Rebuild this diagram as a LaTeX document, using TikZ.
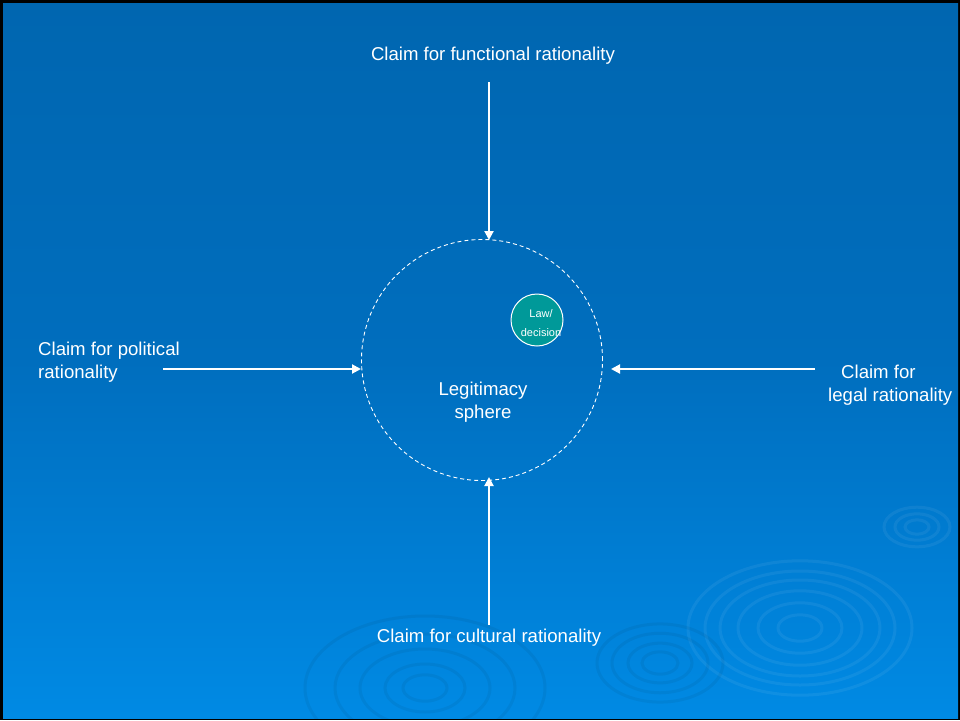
\documentclass[tikz,border=0pt]{standalone}
\usepackage{fontspec}
\setmainfont{Liberation Sans}
\usetikzlibrary{arrows.meta}
\begin{document}
\begin{tikzpicture}[x=1pt,y=-1pt,
  lbl/.style={text=white,font=\fontsize{18.6}{22}\selectfont,inner sep=0pt},
  claimarrow/.style={draw=white,line width=2pt,-{Triangle[length=9pt,width=9pt]}},
  ripple/.style={draw=white,opacity=0.06,line width=3pt},
  rippledark/.style={draw=black,opacity=0.05,line width=3pt}]
\useasboundingbox (0,0) rectangle (960,720);
% frame and gradient background
\fill[black] (0,0) rectangle (960,720);
\shade[top color={rgb,255:red,0;green,102;blue,176}, bottom color={rgb,255:red,0;green,138;blue,228}, middle color={rgb,255:red,0;green,110;blue,190}]
  (3,3) rectangle (958,718);
% ripples (decoration)
\begin{scope}
\clip (3,3) rectangle (958,718);
\foreach \r in {112,95,80,62,42,22}{\draw[ripple] (800,628) ellipse ({\r} and {0.6*\r});}
\foreach \r in {63,48,32,18}{\draw[rippledark] (660,663) ellipse ({\r} and {0.62*\r});}
\foreach \r in {120,90,65,40,22}{\draw[rippledark] (425,688) ellipse ({\r} and {0.6*\r});}
\foreach \r in {33,22,12}{\draw[ripple] (917,527) ellipse ({\r} and {0.6*\r});}
\end{scope}
% main nodes
\node[circle,draw=white,dashed,dash pattern=on 4pt off 3pt,line width=0.9pt,minimum size=241pt,inner sep=0pt] (sphere) at (482,360) {};
\node[lbl,align=center] (legit) at (483,402) {Legitimacy\\[1pt]sphere};
\node[circle,draw=white,line width=1pt,fill={rgb,255:red,0;green,153;blue,153},minimum size=52pt,inner sep=0pt] (law) at (537,320) {};
\node[text=white,align=center,font=\fontsize{11}{19}\selectfont,inner sep=0pt] (lawtxt) at (541,323) {Law/\\decision};
\node[lbl] (func) at (493,56) {Claim for functional rationality};
\node[lbl,align=left,anchor=west] (pol) at (38,362) {Claim for political\\[1pt]rationality};
\node[lbl,align=left,anchor=west] (legal) at (828,385) {\hspace{13pt}Claim for\\[1pt]legal rationality};
\node[lbl] (cult) at (489,638) {Claim for cultural rationality};
% connectors
\coordinate (ftop) at (489,82);
\coordinate (fbot) at (489,240);
\coordinate (pl) at (163,369);
\coordinate (pr) at (361,369);
\coordinate (ll) at (815,369);
\coordinate (lr) at (611,369);
\coordinate (cb) at (489,625);
\coordinate (ct) at (489,477);
\draw[claimarrow] (ftop) -- (fbot);
\draw[claimarrow] (pl) -- (pr);
\draw[claimarrow] (ll) -- (lr);
\draw[claimarrow] (cb) -- (ct);
\end{tikzpicture}
\end{document}
